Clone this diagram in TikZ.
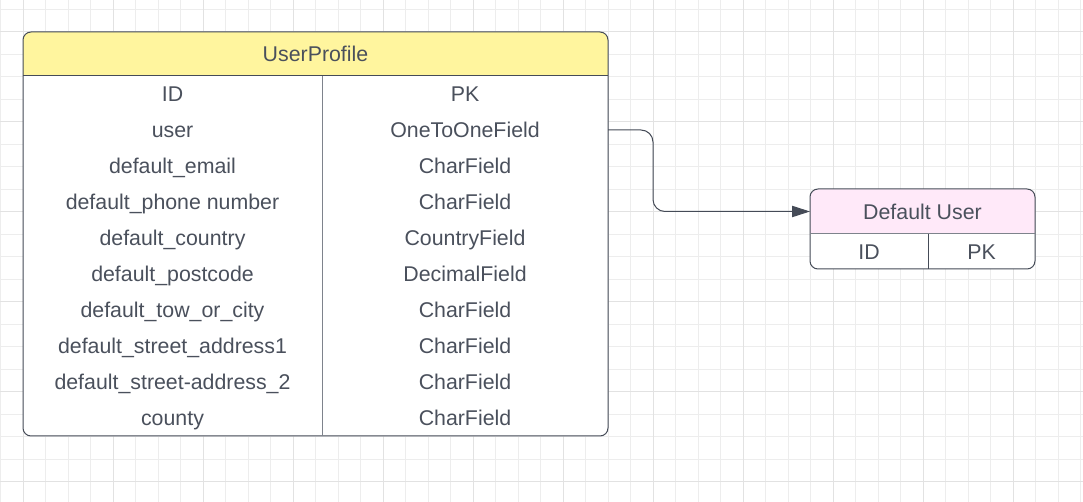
\documentclass[tikz,border=0pt]{standalone}
\usepackage{fontspec}
\setmainfont{Liberation Sans}
\usetikzlibrary{positioning, arrows.meta, backgrounds}

\definecolor{txtgray}{HTML}{4A505C}
\definecolor{framegray}{HTML}{454B57}
\definecolor{divgray}{HTML}{7E838C}
\definecolor{gridminor}{HTML}{EDEDED}
\definecolor{gridmajor}{HTML}{E2E2E2}
\definecolor{upyellow}{HTML}{FFF59E}
\definecolor{dupink}{HTML}{FFE9F9}

\begin{document}
\begin{tikzpicture}[
  x=0.75pt, y=-0.75pt,
  every node/.style={font=\fontsize{16}{18}\selectfont, text=txtgray,
                     inner sep=0pt, outer sep=0pt,
                     text height=13.5pt, text depth=2pt},
  hdr/.style={rectangle, minimum height=33pt, anchor=north west},
  upkey/.style={rectangle, minimum width=224.25pt, minimum height=27pt},
  upval/.style={rectangle, minimum width=214.5pt, minimum height=27pt},
  dukey/.style={rectangle, minimum width=88.5pt, minimum height=26.25pt},
  duval/.style={rectangle, minimum width=80.25pt, minimum height=26.25pt},
  frame/.style={draw=framegray, line width=0.75pt},
  divline/.style={draw=divgray, line width=0.75pt},
  arr/.style={-{Triangle[length=13.5pt, width=8.5pt]}, draw=framegray,
              line width=0.75pt, rounded corners=9pt}
]
  \useasboundingbox (0,0) rectangle (1083,502);

  % UserProfile table
  \node[hdr, minimum width=438.75pt] (uphead) at (23,32) {UserProfile};
  \node[upkey, below=0pt of uphead.south west, anchor=north west] (idk) {ID};
  \node[upval, right=0pt of idk] (idv) {PK};
  \node[upkey, below=0pt of idk] (userk) {user};
  \node[upval, right=0pt of userk] (userv) {OneToOneField};
  \node[upkey, below=0pt of userk] (emailk) {default\_email};
  \node[upval, right=0pt of emailk] (emailv) {CharField};
  \node[upkey, below=0pt of emailk] (phonek) {default\_phone number};
  \node[upval, right=0pt of phonek] (phonev) {CharField};
  \node[upkey, below=0pt of phonek] (countryk) {default\_country};
  \node[upval, right=0pt of countryk] (countryv) {CountryField};
  \node[upkey, below=0pt of countryk] (postk) {default\_postcode};
  \node[upval, right=0pt of postk] (postv) {DecimalField};
  \node[upkey, below=0pt of postk] (townk) {default\_tow\_or\_city};
  \node[upval, right=0pt of townk] (townv) {CharField};
  \node[upkey, below=0pt of townk] (addrak) {default\_street\_address1};
  \node[upval, right=0pt of addrak] (addrav) {CharField};
  \node[upkey, below=0pt of addrak] (addrbk) {default\_street-address\_2};
  \node[upval, right=0pt of addrbk] (addrbv) {CharField};
  \node[upkey, below=0pt of addrbk] (countyk) {county};
  \node[upval, right=0pt of countyk] (countyv) {CharField};

  \draw[frame, rounded corners=6pt] (uphead.north west) rectangle (countyv.south east);
  \draw[frame] (uphead.south west) -- (uphead.south east);
  \draw[divline] (idv.north west) -- (countyv.south west);

  % Default User table
  \node[hdr, minimum width=168.75pt, minimum height=33.75pt] (duhead) at (810,189) {Default User};
  \node[dukey, below=0pt of duhead.south west, anchor=north west] (duidk) {ID};
  \node[duval, right=0pt of duidk] (duidv) {PK};

  \draw[frame, rounded corners=6pt] (duhead.north west) rectangle (duidv.south east);
  \draw[divline] (duhead.south west) -- (duhead.south east);
  \draw[frame] (duidv.north west) -- (duidv.south west);

  % relation
  \draw[arr] (userv.east) -- ++(45,0) |- (duhead.west);

  \begin{scope}[on background layer]
    \fill[white] (0,0) rectangle (1083,502);
    \foreach \gx in {0.5,23,...,1083} \draw[gridminor, line width=0.75pt] (\gx,0) -- (\gx,502);
    \foreach \gy in {9.5,32,...,502} \draw[gridminor, line width=0.75pt] (0,\gy) -- (1083,\gy);
    \foreach \gx in {23,113,...,1083} \draw[gridmajor, line width=0.75pt] (\gx,0) -- (\gx,502);
    \foreach \gy in {32,122,...,502} \draw[gridmajor, line width=0.75pt] (0,\gy) -- (1083,\gy);
    \begin{scope}
      \clip[rounded corners=6pt] (uphead.north west) rectangle (countyv.south east);
      \fill[white] (uphead.north west) rectangle (countyv.south east);
      \fill[upyellow] (uphead.north west) rectangle (uphead.south east);
    \end{scope}
    \begin{scope}
      \clip[rounded corners=6pt] (duhead.north west) rectangle (duidv.south east);
      \fill[white] (duhead.north west) rectangle (duidv.south east);
      \fill[dupink] (duhead.north west) rectangle (duhead.south east);
    \end{scope}
  \end{scope}
\end{tikzpicture}
\end{document}
